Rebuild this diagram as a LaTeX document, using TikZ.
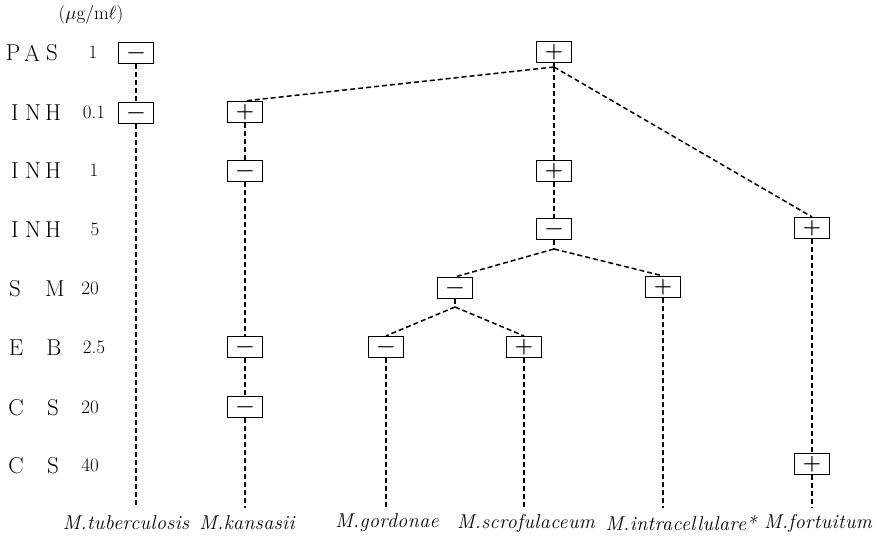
\documentclass[tikz,border=0pt]{standalone}
\usepackage{fix-cm}
\usepackage{fontspec}
\newfontfamily\spfont{Latin Modern Roman}[LetterSpace=2]
\begin{document}
\begin{tikzpicture}[x=1pt,y=-1pt,
 sbox/.style={draw,line width=1.2pt,minimum width=35pt,minimum height=21pt,inner sep=0pt,
   text height=12.2pt,text depth=1.7pt,font=\fontsize{21}{21}\selectfont\bfseries},
 dl/.style={line width=1.5pt,dash pattern=on 5pt off 3pt},
 rowl/.style={font=\fontsize{23}{23}\selectfont,inner sep=0pt},
 num/.style={font=\fontsize{19}{19}\selectfont,inner sep=0pt},
 sp/.style={font=\fontsize{20}{20}\spfont\itshape,inner sep=0pt}]
\useasboundingbox (0,0) rectangle (878,538);
% unit
\node[num] (unit) at (91,15) {$(\mu\mathrm{g/m}\ell)$};
% row labels
\node[rowl] (r1a) at (13,53) {P};
\node[rowl] (r1b) at (32,53) {A};
\node[rowl] (r1c) at (52,53) {S};
\node[num] (n1) at (93,52) {1};
\node[rowl] (r2a) at (15,113) {I};
\node[rowl] (r2b) at (33,113) {N};
\node[rowl] (r2c) at (53,113) {H};
\node[num] (n2) at (94,112) {0.1};
\node[rowl] (r3a) at (15,171) {I};
\node[rowl] (r3b) at (33,171) {N};
\node[rowl] (r3c) at (53,171) {H};
\node[num] (n3) at (94,170) {1};
\node[rowl] (r4a) at (15,230) {I};
\node[rowl] (r4b) at (33,230) {N};
\node[rowl] (r4c) at (53,230) {H};
\node[num] (n4) at (95,229) {5};
\node[rowl] (r5a) at (15,289) {S};
\node[rowl] (r5b) at (55,289) {M};
\node[num] (n5) at (90,288) {20};
\node[rowl] (r6a) at (16,348) {E};
\node[rowl] (r6b) at (54,348) {B};
\node[num] (n6) at (94,347) {2.5};
\node[rowl] (r7a) at (16,408) {C};
\node[rowl] (r7b) at (53,408) {S};
\node[num] (n7) at (90,407) {20};
\node[rowl] (r8a) at (16,466) {C};
\node[rowl] (r8b) at (53,466) {S};
\node[num] (n8) at (90,465) {40};
% boxes
\node[sbox] (tb1) at (136,53) {−};
\node[sbox] (tb2) at (136,113) {−};
\node[sbox] (ka1) at (245,112) {+};
\node[sbox] (ka2) at (245,171) {−};
\node[sbox] (ka3) at (245,347) {−};
\node[sbox] (ka4) at (245,407) {−};
\node[sbox] (m1) at (554,52) {+};
\node[sbox] (m2) at (554,171) {+};
\node[sbox] (m3) at (554,229) {−};
\node[sbox] (sm1) at (455,288) {−};
\node[sbox] (sm2) at (663,287) {+};
\node[sbox] (go) at (386,347) {−};
\node[sbox] (sc) at (524,347) {+};
\node[sbox] (f1) at (812,228) {+};
\node[sbox] (f2) at (812,464) {+};
% branch points and ends
\coordinate (b1) at (554,67);
\coordinate (b2) at (554,249);
\coordinate (b3) at (455,307);
\coordinate (e1) at (136,508);
\coordinate (e2) at (245,508);
\coordinate (e3) at (386,508);
\coordinate (e4) at (524,508);
\coordinate (e5) at (663,508);
\coordinate (e6) at (812,508);
% species labels
\node[sp] (s1) at (126,523) {M.tuberculosis};
\node[sp] (s2) at (247,523) {M.kansasii};
\node[sp] (s3) at (387,523) {M.gordonae};
\node[sp] (s4) at (526,523) {M.scrofulaceum};
\node[sp] (s5) at (681,523) {M.intracellulare*};
\node[sp] (s6) at (818,523) {M.fortuitum};
% connectors
\draw[dl] (tb1.south) -- (tb2.north);
\draw[dl] (tb2.south) -- (e1);
\draw[dl] (m1.south) -- (b1);
\draw[dl] (b1) -- (ka1.north);
\draw[dl] (b1) -- (m2.north);
\draw[dl] (b1) -- (f1.north);
\draw[dl] (ka1.south) -- (ka2.north);
\draw[dl] (ka2.south) -- (ka3.north);
\draw[dl] (ka3.south) -- (ka4.north);
\draw[dl] (ka4.south) -- (e2);
\draw[dl] (m2.south) -- (m3.north);
\draw[dl] (m3.south) -- (b2);
\draw[dl] (b2) -- (sm1.north);
\draw[dl] (b2) -- (sm2.north);
\draw[dl] (sm1.south) -- (b3);
\draw[dl] (b3) -- (go.north);
\draw[dl] (b3) -- (sc.north);
\draw[dl] (go.south) -- (e3);
\draw[dl] (sc.south) -- (e4);
\draw[dl] (sm2.south) -- (e5);
\draw[dl] (f1.south) -- (f2.north);
\draw[dl] (f2.south) -- (e6);
\end{tikzpicture}
\end{document}
